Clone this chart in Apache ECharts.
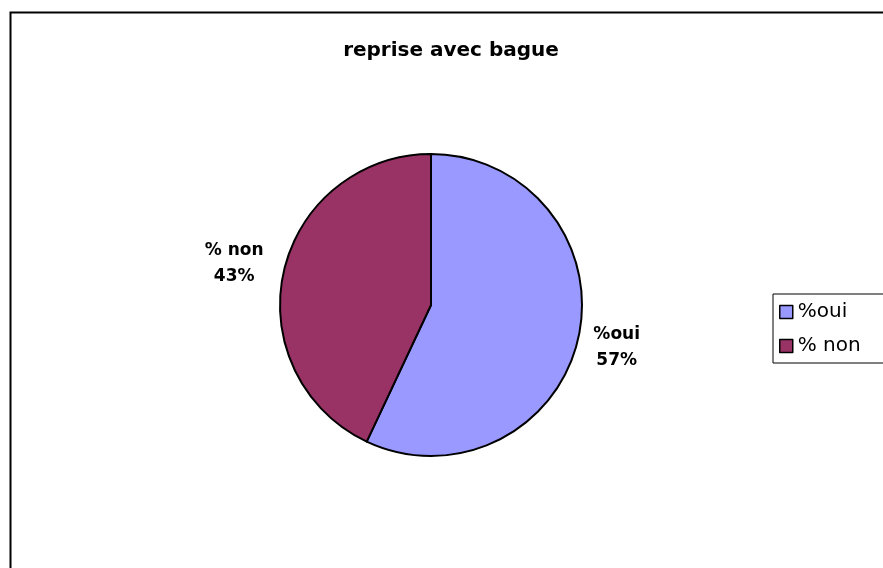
<!DOCTYPE html>
<html>
<head>
<meta charset="utf-8">
<script src="https://cdn.jsdelivr.net/npm/echarts@6/dist/echarts.min.js"></script>
<style>
  html, body { margin: 0; padding: 0; background: #fff; }
  #chart { width: 883px; height: 568px; }
</style>
</head>
<body>
<div id="chart"></div>
<script>
// Share of "reprise avec bague" answers
const categories = ['%oui', '% non'];
const values = [57, 43];
const colors = ['#9999FF', '#993366'];

// small nudges applied to the outside labels
const labelShiftX = [0, -5];
const labelShiftY = [10, -8];

const chart = echarts.init(document.getElementById('chart'), null, { renderer: 'canvas' });

const option = {
  backgroundColor: '#ffffff',
  animation: false,
  title: {
    text: 'reprise avec bague',
    left: 446,
    top: 36,
    textAlign: 'center',
    textStyle: {
      fontFamily: 'DejaVu Sans',
      fontWeight: 'bold',
      fontSize: 20,
      color: '#000'
    }
  },
  graphic: [{
    type: 'rect',
    silent: true,
    shape: { x: 10.5, y: 12.5, width: 1000, height: 1000 },
    style: { fill: 'none', stroke: '#000', lineWidth: 2 }
  }],
  legend: {
    orient: 'vertical',
    left: 773,
    top: 294,
    padding: [8, 40, 7, 6],
    borderColor: '#000',
    borderWidth: 1,
    itemWidth: 13,
    itemHeight: 13,
    itemGap: 14,
    icon: 'rect',
    data: categories,
    textStyle: {
      fontFamily: 'DejaVu Sans',
      fontSize: 20,
      color: '#000'
    },
    itemStyle: { borderColor: '#000', borderWidth: 1.5 }
  },
  series: [{
    type: 'pie',
    center: [431, 305],
    radius: 151,
    startAngle: 90,
    clockwise: true,
    avoidLabelOverlap: false,
    data: categories.map((name, i) => ({
      name,
      value: values[i],
      itemStyle: { color: colors[i] }
    })),
    itemStyle: { borderColor: '#000', borderWidth: 2 },
    label: {
      show: true,
      position: 'outside',
      formatter: '{b}\n{d}%',
      fontFamily: 'DejaVu Sans',
      fontWeight: 'bold',
      fontSize: 17,
      lineHeight: 26,
      color: '#000',
      distanceToLabelLine: 5
    },
    labelLine: { show: false, length: 0, length2: 10 },
    labelLayout: function (p) {
      return {
        x: p.labelRect.x + p.labelRect.width / 2,
        align: 'center',
        dx: labelShiftX[p.dataIndex],
        dy: labelShiftY[p.dataIndex]
      };
    },
    emphasis: { disabled: true }
  }]
};

chart.setOption(option);
</script>
</body>
</html>
